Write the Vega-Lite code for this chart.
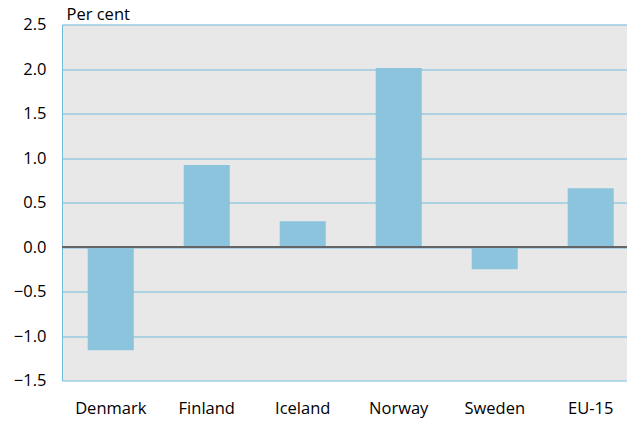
{
  "$schema": "https://vega.github.io/schema/vega-lite/v6.json",
  "width": 565,
  "height": 356,
  "autosize": {"type": "none"},
  "padding": {"left": 62, "top": 24.5, "right": 0, "bottom": 40.5},
  "background": "white",
  "config": {
    "view": {"stroke": null, "fill": "#e8e8e8"},
    "font": "Open Sans",
    "axis": {"labelFont": "Open Sans", "titleFont": "Open Sans", "labelColor": "#000", "titleColor": "#000"}
  },
  "data": {
    "values": [
      {"country": "Denmark", "value": -1.16},
      {"country": "Finland", "value": 0.92},
      {"country": "Iceland", "value": 0.29},
      {"country": "Norway", "value": 2.01},
      {"country": "Sweden", "value": -0.25},
      {"country": "EU-15", "value": 0.66}
    ]
  },
  "layer": [
    {
      "mark": {"type": "bar", "color": "#8cc4de"},
      "encoding": {
        "x": {
          "field": "country", "type": "nominal", "sort": null,
          "scale": {"paddingInner": 0.52, "paddingOuter": 0.203, "align": 0.66},
          "axis": {"title": null, "labelAngle": 0, "ticks": false, "domain": false, "labelFontSize": 16.5, "labelPadding": 20}
        },
        "y": {
          "field": "value", "type": "quantitative",
          "scale": {"domain": [-1.5, 2.5], "nice": false},
          "axis": {
            "values": [-1.5, -1.0, -0.5, 0, 0.5, 1.0, 1.5, 2.0, 2.5],
            "format": ".1f",
            "ticks": false,
            "domain": true, "domainColor": "#6fbade", "domainWidth": 1,
            "grid": true, "gridColor": "#6fbade", "gridWidth": 1, "gridOpacity": 1,
            "labelFontSize": 16.5, "labelPadding": 16,
            "title": "Per cent", "titleAngle": 0, "titleAlign": "left", "titleBaseline": "alphabetic",
            "titleX": 4, "titleY": -5, "titleFontSize": 16.5, "titleFontWeight": "normal"
          }
        }
      }
    },
    {
      "mark": {"type": "rule", "color": "#666666", "strokeWidth": 1.5},
      "encoding": {"y": {"datum": 0}}
    }
  ]
}
